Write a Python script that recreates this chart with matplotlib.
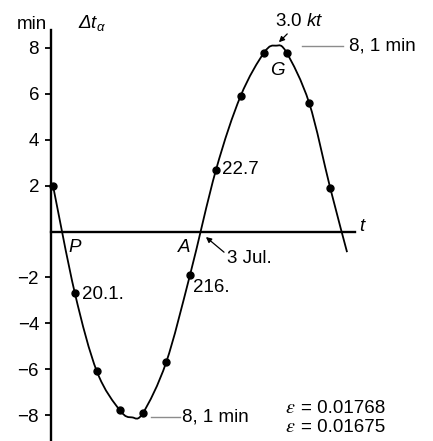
import matplotlib
matplotlib.use("Agg")
import matplotlib.pyplot as plt
from matplotlib.path import Path
from matplotlib.patches import PathPatch

# dots: monthly positions (months from start) and Delta t_alpha (min)
months = [0.0, 0.95, 1.9, 2.9, 3.9, 4.9, 5.93, 7.06, 8.12, 9.14, 10.11, 11.09, 12.0]
dt_alpha = [2.0, -2.7, -6.1, -7.8, -7.9, -5.7, -1.9, 2.7, 5.9, 7.8, 7.8, 5.6, 1.9]

# points the drawn curve passes through (dots + extremes + end of line)
curve_x = [0.0, 0.95, 1.9, 2.9, 3.42, 3.9, 4.9, 5.93, 7.06, 8.12, 9.14, 9.65, 10.11, 11.09, 12.0, 12.73]
curve_y = [2.0, -2.7, -6.1, -7.8, -8.1, -7.9, -5.7, -1.9, 2.7, 5.9, 7.8, 8.1, 7.8, 5.6, 1.9, -0.9]

yticks = [-8, -6, -4, -2, 2, 4, 6, 8]
amplitude = 8.1
point_labels = {1: "20.1.", 6: "216.", 7: "22.7"}
eccentricities = ["0.01768", "0.01675"]

plt.rcParams["font.family"] = ["Liberation Sans", "DejaVu Sans"]
plt.rcParams["mathtext.fontset"] = "custom"
plt.rcParams["mathtext.rm"] = "Liberation Sans:italic"
plt.rcParams["mathtext.it"] = "Liberation Sans:italic"
FS = 13.5


def smooth_path(xs, ys):
    """Catmull-Rom curve through the points, as cubic Bezier segments."""
    pts = list(zip(xs, ys))
    verts = [pts[0]]
    codes = [Path.MOVETO]
    n = len(pts)
    for i in range(n - 1):
        p0 = pts[max(i - 1, 0)]
        p1 = pts[i]
        p2 = pts[i + 1]
        p3 = pts[min(i + 2, n - 1)]
        c1 = (p1[0] + (p2[0] - p0[0]) / 6, p1[1] + (p2[1] - p0[1]) / 6)
        c2 = (p2[0] - (p3[0] - p1[0]) / 6, p2[1] - (p3[1] - p1[1]) / 6)
        verts += [c1, c2, p2]
        codes += [Path.CURVE4] * 3
    return Path(verts, codes)


fig = plt.figure(figsize=(4.33, 4.41), dpi=100)
ax = fig.add_axes([0, 0, 1, 1])
ax.set_xlim(-2.294, 16.45)
ax.set_ylim(-9.13, 10.09)
ax.patch.set_visible(False)

for s in ("top", "right"):
    ax.spines[s].set_visible(False)
ax.spines["left"].set_position(("data", -0.09))
ax.spines["left"].set_bounds(-9.2, 8.8)
ax.spines["bottom"].set_position(("data", 0))
ax.spines["bottom"].set_bounds(-0.09, 13.07)
for s in ("left", "bottom"):
    ax.spines[s].set_linewidth(1.7)

ax.set_xticks([])
ax.set_yticks(yticks)
ax.tick_params(axis="y", direction="out", length=4.5, width=1.3, pad=4, labelsize=FS)

ax.add_patch(PathPatch(smooth_path(curve_x, curve_y), fill=False, lw=1.3, color="black"))
ax.plot(months, dt_alpha, "o", color="black", ms=5, zorder=3)

# labels next to dots
ax.annotate(point_labels[1], (months[1], dt_alpha[1]), xytext=(5, -1),
            textcoords="offset points", va="center", fontsize=FS)
ax.annotate(point_labels[6], (months[6], dt_alpha[6]), xytext=(2, -9),
            textcoords="offset points", va="center", fontsize=FS)
ax.annotate(point_labels[7], (months[7], dt_alpha[7]), xytext=(4, 0),
            textcoords="offset points", va="center", fontsize=FS)

# amplitude leaders
ax.plot([10.78, 12.55], [amplitude, amplitude], color="#8c8c8c", lw=1)
ax.text(12.8, amplitude, "8, 1 min", va="center", fontsize=FS)
ax.plot([4.23, 5.5], [-amplitude, -amplitude], color="#8c8c8c", lw=1)
ax.text(5.58, -amplitude, "8, 1 min", va="center", fontsize=FS)

# axis labels
ax.text(-0.26, 8.81, "min", ha="right", va="baseline", fontsize=FS)
ax.text(1.08, 8.87, r"$\Delta t_{\alpha}$", va="baseline", fontsize=FS)
ax.text(13.38, 0.2, "t", style="italic", ha="center", va="center", fontsize=FS)

# named points
ax.text(9.7, 7.0, "G", style="italic", ha="center", va="center", fontsize=FS)
ax.text(0.95, -0.68, "P", style="italic", ha="center", va="center", fontsize=FS)
ax.text(5.67, -0.68, "A", style="italic", ha="center", va="center", fontsize=FS)

arrow = dict(arrowstyle="-|>", color="black", lw=0.9, mutation_scale=8, shrinkA=1, shrinkB=0)
ax.annotate("3.0 $kt$", xy=(9.78, 8.25), xytext=(10.67, 8.95), ha="center", va="baseline",
            fontsize=FS, arrowprops=arrow)
ax.annotate("", xy=(6.62, -0.24), xytext=(7.45, -0.94), arrowprops=arrow)
ax.text(7.53, -1.16, "3 Jul.", va="center", fontsize=FS)

# eccentricities
for i, val in enumerate(eccentricities):
    y = -7.92 - i * 0.8
    eps = ax.text(10.05, y, "ε", family="STIXGeneral", style="italic", va="baseline", fontsize=FS + 1)
    ax.annotate("= " + val, xy=(1, y), xycoords=(eps, "data"), xytext=(5, 0),
                textcoords="offset points", va="baseline", fontsize=FS)

fig.savefig("out.png", dpi=100)
